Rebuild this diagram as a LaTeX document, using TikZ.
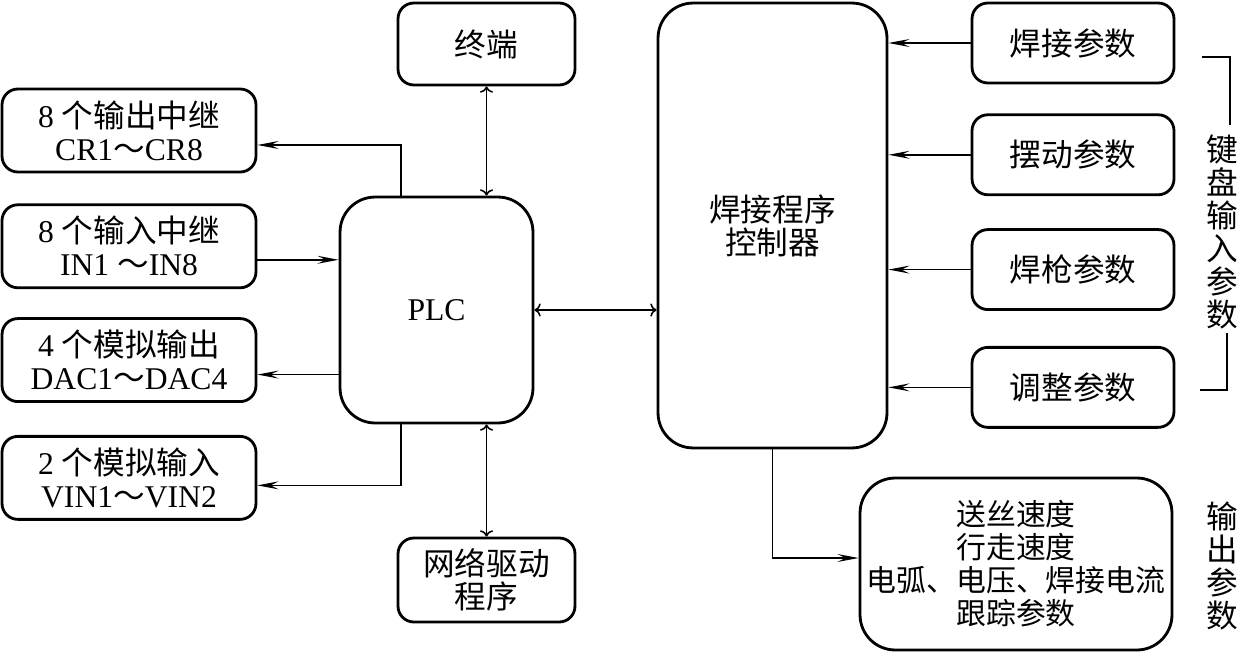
\documentclass[tikz,border=0pt]{standalone}
\usepackage{fontspec}
\setmainfont{Liberation Serif}
\newfontfamily\cjk{Noto Sans CJK SC}
\usetikzlibrary{arrows.meta,positioning,calc}
\tikzset{
  blk/.style={draw,line width=1.6pt,rounded corners=9pt,
              minimum width=5.08cm,minimum height=1.66cm,
              align=center,inner sep=1pt,
              font=\fontsize{18}{18.8}\selectfont},
  blkcn/.style={blk,font=\fontsize{18}{18.8}\selectfont\cjk},
  blkpar/.style={blkcn,minimum width=4.04cm,minimum height=1.6cm},
  blkbig/.style={blk,rounded corners=20pt},
  arr/.style={-{Stealth[length=12pt,width=4.5pt,inset=4.5pt]},line width=0.9pt},
  lbl/.style={align=center,inner sep=0pt,
              font=\fontsize{18}{18.7}\selectfont\cjk},
}
\begin{document}
\begin{tikzpicture}[x=0.02cm,y=-0.02cm,node distance=0.6cm and 1cm]
  \useasboundingbox (0,0) rectangle (1243,652);
  % left column
  \node[blk](cr) at (129,130.5){8 {\cjk 个输出中继}\\CR1{\cjk ～}CR8};
  \node[blk,below=of cr](in){8 {\cjk 个输入中继}\\IN1 {\cjk ～}IN8};
  \node[blk,below=0.56cm of in](dac){4 {\cjk 个模拟输出}\\DAC1{\cjk ～}DAC4};
  \node[blk,below=0.64cm of dac](vin){2 {\cjk 个模拟输入}\\VIN1{\cjk ～}VIN2};
  % PLC and neighbours
  \node[blkbig,minimum width=3.86cm,minimum height=4.52cm](plc) at (436.5,310){PLC};
  \node[blkcn,minimum width=3.54cm,minimum height=1.64cm](term) at (486.5,44){终端};
  \node[blkcn,minimum width=3.54cm,minimum height=1.68cm](net) at (486.5,580){网络驱动\\程序};
  % controller
  \node[blkbig,font=\fontsize{18}{18.8}\selectfont\cjk,minimum width=4.58cm,
        minimum height=8.9cm](ctrl) at (772.5,225.5){焊接程序\\控制器};
  % keyboard parameters
  \node[blkpar](wp) at (1073,43){焊接参数};
  \node[blkpar,below=0.58cm of wp](sw){摆动参数};
  \node[blkpar,below=0.64cm of sw](gun){焊枪参数};
  \node[blkpar,below=0.7cm of gun](adj){调整参数};
  \node[blkbig,font=\fontsize{17}{18.8}\selectfont\cjk,minimum width=6.24cm,
        minimum height=3.44cm](out) at (1016,564){送丝速度\\行走速度\\电弧、电压、焊接电流\\跟踪参数};
  \node[lbl](kb) at (1222,232){键\\盘\\输\\入\\参\\数};
  \node[lbl](op) at (1222,566){输\\出\\参\\数};
  \draw[line width=0.9pt](1202,57)--(1230,57)--(1230,125);
  \draw[line width=0.9pt](1227,333)--(1227,390)--(1200,390);
  % connectors
  \draw[arr]([xshift=-0.71cm]plc.north)|-([yshift=-0.29cm]cr.east);
  \draw[arr]([yshift=-0.27cm]in.east)--([yshift=-0.27cm]in.east-|plc.west);
  \draw[arr]([yshift=-0.29cm]dac.east-|plc.west)--([yshift=-0.29cm]dac.east);
  \draw[arr]([xshift=-0.71cm]plc.south)|-([yshift=-0.15cm]vin.east);
  \draw[arr,<->](term.south)--(term.south|-plc.north);
  \draw[arr,<->](net.north)--(net.north|-plc.south);
  \draw[arr,<->](plc.east)--(plc.east-|ctrl.west);
  \foreach \p in {wp,sw,gun,adj}
    \draw[arr](\p.west)--(\p.west-|ctrl.east);
  \draw[arr](ctrl.south)|-([yshift=0.12cm]out.west);
\end{tikzpicture}
\end{document}
